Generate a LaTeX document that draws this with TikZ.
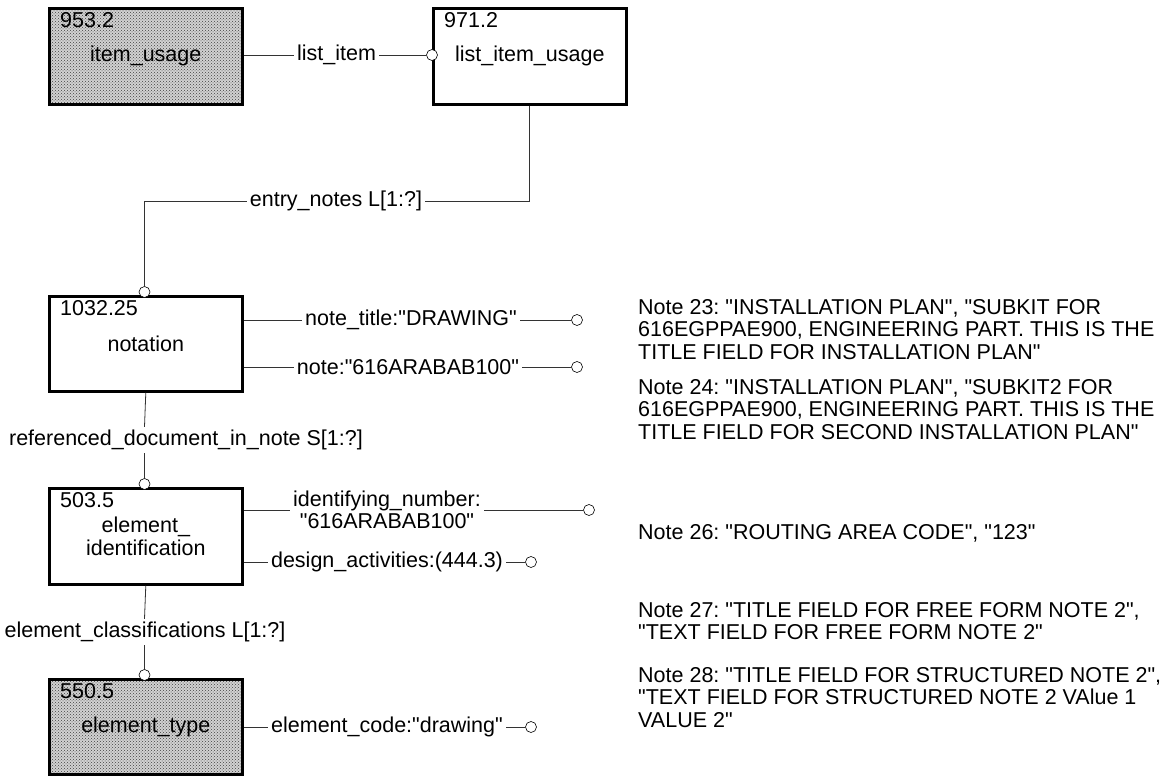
\documentclass[tikz,border=0pt]{standalone}
\usepackage{fontspec}
\setmainfont{Liberation Sans}[Ligatures=TeXOff]
\usetikzlibrary{patterns}
\begin{document}
\frenchspacing
\begin{tikzpicture}[x=1pt,y=-1pt,
  font=\fontsize{21.5}{22.5}\selectfont,
  entity/.style={draw, line width=2.6pt, minimum width=193pt, minimum height=96pt, inner sep=0pt, anchor=north west},
  shaded/.style={preaction={fill=gray!35}, pattern=crosshatch dots, pattern color=black!75},
  num/.style={anchor=north west, inner sep=1pt},
  lbl/.style={inner sep=3pt},
  circ/.style={draw, circle, minimum size=11pt, inner sep=0pt, line width=0.6pt, fill=white},
  conn/.style={draw=black!80, line width=0.8pt},
  note/.style={anchor=north west, inner sep=0pt, align=left}]
\useasboundingbox (0,0) rectangle (1167,776);

% entities
\node[entity, shaded] (iu) at (48,7) {item\_usage};
\node[num] (iun) at ([shift={(11,4)}]iu.north west) {953.2};
\node[entity] (liu) at (432,7) {list\_item\_usage};
\node[num] (liun) at ([shift={(11,4)}]liu.north west) {971.2};
\node[entity, minimum height=95pt] (no) at (48,295) {notation};
\node[num] (non) at ([shift={(11,4)}]no.north west) {1032.25};
\node[entity, align=center] (ei) at (48,487) {element\_\\identification};
\node[num] (ein) at ([shift={(11,4)}]ei.north west) {503.5};
\node[entity, shaded, minimum height=95pt] (et) at (48,678) {element\_type};
\node[num] (etn) at ([shift={(11,4)}]et.north west) {550.5};

% list_item
\node[lbl] (l1) at (336.5,55) {list\_item};
\node[circ] (c1) at (432,55) {};
\draw[conn] (iu.east |- l1) -- (l1.west);
\draw[conn] (l1.east) -- (c1.west);

% entry_notes
\node[lbl] (l2) at (336,201) {entry\_notes L[1:?]};
\node[circ] (c2) at (144.5,292) {};
\draw[conn] (liu.south) |- (l2.east);
\draw[conn] (l2.west) -| (c2.north);

% note_title
\node[lbl] (l3) at (411,320) {note\_title:"DRAWING"};
\node[circ] (c3) at (577,320) {};
\draw[conn] (no.east |- l3) -- (l3.west);
\draw[conn] (l3.east) -- (c3.west);

% note
\node[lbl] (l4) at (408,367) {note:"616ARABAB100"};
\node[circ] (c4) at (577,367) {};
\draw[conn] (no.east |- l4) -- (l4.west);
\draw[conn] (l4.east) -- (c4.west);

% referenced_document_in_note
\node[lbl] (l5) at (186,440) {referenced\_document\_in\_note S[1:?]};
\node[circ] (c5) at (144.5,484) {};
\draw[conn] (no.south) -- (c5 |- l5.north);
\draw[conn] (c5 |- l5.south) -- (c5.north);

% identifying_number
\node[lbl, align=center] (l6) at (387,510) {identifying\_number:\\"616ARABAB100"};
\node[circ] (c6) at (589,510) {};
\draw[conn] (ei.east |- l6) -- (l6.west);
\draw[conn] (l6.east) -- (c6.west);

% design_activities
\node[lbl] (l7) at (387,562) {design\_activities:(444.3)};
\node[circ] (c7) at (531,562) {};
\draw[conn] (ei.east |- l7) -- (l7.west);
\draw[conn] (l7.east) -- (c7.west);

% element_classifications
\node[lbl] (l8) at (145,632) {element\_classifications L[1:?]};
\node[circ] (c8) at (144.5,675) {};
\draw[conn] (ei.south) -- (c8 |- l8.north);
\draw[conn] (c8 |- l8.south) -- (c8.north);

% element_code
\node[lbl] (l9) at (387,727) {element\_code:"drawing"};
\node[circ] (c9) at (531,727) {};
\draw[conn] (et.east |- l9) -- (l9.west);
\draw[conn] (l9.east) -- (c9.west);

% notes
\node[note] (n23) at (638,299) {Note 23: "INSTALLATION PLAN", "SUBKIT FOR\\616EGPPAE900, ENGINEERING PART. THIS IS THE\\TITLE FIELD FOR INSTALLATION PLAN"};
\node[note] (n24) at (638,379) {Note 24: "INSTALLATION PLAN", "SUBKIT2 FOR\\616EGPPAE900, ENGINEERING PART. THIS IS THE\\TITLE FIELD FOR SECOND INSTALLATION PLAN"};
\node[note] (n26) at (638,524) {Note 26: "ROUTING AREA CODE", "123"};
\node[note] (n27) at (638,602) {Note 27: "TITLE FIELD FOR FREE FORM NOTE 2",\\"TEXT FIELD FOR FREE FORM NOTE 2"};
\node[note] (n28) at (638,667) {Note 28: "TITLE FIELD FOR STRUCTURED NOTE 2",\\"TEXT FIELD FOR STRUCTURED NOTE 2 VAlue 1\\VALUE 2"};
\end{tikzpicture}
\end{document}
